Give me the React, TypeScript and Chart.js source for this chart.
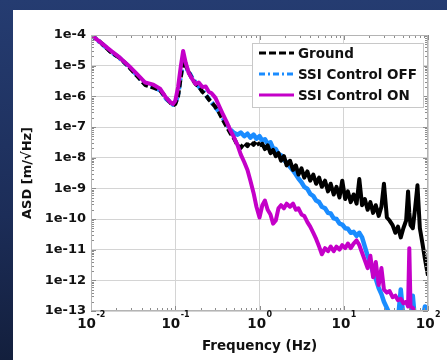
import React, { useEffect, useRef } from 'react';
import { Chart, registerables } from 'chart.js';

Chart.register(...registerables);

// Frequency axis (Hz)
const freqHz = [
  0.01, 0.013, 0.017, 0.022, 0.028, 0.035, 0.044, 0.055, 0.066, 0.078,
  0.088, 0.094, 0.1, 0.108, 0.116, 0.124, 0.133, 0.145, 0.16, 0.175,
  0.19, 0.21, 0.23, 0.25, 0.27, 0.3, 0.33, 0.37, 0.41, 0.45,
  0.5, 0.55, 0.6, 0.66, 0.72, 0.78, 0.85, 0.92, 1.0, 1.08,
  1.16, 1.25, 1.35, 1.45, 1.56, 1.68, 1.8, 1.95, 2.1, 2.3,
  2.5, 2.7, 2.9, 3.15, 3.4, 3.7, 4.0, 4.35, 4.7, 5.1,
  5.5, 6.0, 6.5, 7.0, 7.6, 8.2, 8.9, 9.6, 10.4, 11.2,
  12.1, 13.1, 14.2, 15.3, 16.5, 17.8, 19.2, 20.7, 22.3, 24,
  26, 28, 30, 32.5, 35, 38, 41, 44, 47.5, 51,
  55, 58, 60, 62, 66, 70, 75, 80, 86, 92,
  100,
];

// ASD [m/sqrt(Hz)]
const groundASD = [
  1.0e-4, 5.75e-5, 2.82e-5, 1.78e-5, 9.33e-6, 4.68e-6, 2.34e-6, 1.91e-6, 1.58e-6, 8.91e-7,
  6.03e-7, 5.01e-7, 5.62e-7, 1.0e-6, 3.98e-6, 1.51e-5, 1.0e-5, 6.03e-6, 3.55e-6, 2.51e-6,
  2.09e-6, 1.41e-6, 1.12e-6, 7.94e-7, 6.31e-7, 4.47e-7, 3.02e-7, 1.66e-7, 1.0e-7, 6.31e-8,
  4.17e-8, 2.51e-8, 2.09e-8, 3.02e-8, 2.40e-8, 3.31e-8, 2.63e-8, 3.55e-8, 2.51e-8, 2.82e-8,
  1.91e-8, 2.51e-8, 1.41e-8, 1.78e-8, 1.12e-8, 1.41e-8, 7.94e-9, 1.12e-8, 5.62e-9, 7.94e-9,
  3.98e-9, 5.62e-9, 2.82e-9, 4.47e-9, 2.24e-9, 3.55e-9, 1.78e-9, 2.82e-9, 1.41e-9, 2.24e-9,
  1.12e-9, 1.78e-9, 7.94e-10, 1.41e-9, 6.31e-10, 1.12e-9, 5.01e-10, 1.78e-9, 4.47e-10, 7.94e-10,
  3.55e-10, 6.31e-10, 3.16e-10, 2.0e-9, 2.82e-10, 4.47e-10, 2.0e-10, 3.55e-10, 1.58e-10, 2.82e-10,
  1.26e-10, 2.51e-10, 1.41e-9, 1.12e-10, 8.91e-11, 6.31e-11, 3.55e-11, 5.62e-11, 2.51e-11, 5.01e-11,
  8.91e-11, 7.94e-10, 1.58e-10, 6.31e-11, 5.01e-11, 2.0e-10, 1.26e-9, 5.01e-11, 1.58e-11, 5.01e-12,
  1.41e-12,
];

const ssiOffASD = [
  1.0e-4, 5.62e-5, 2.95e-5, 1.74e-5, 9.55e-6, 5.01e-6, 2.51e-6, 2.0e-6, 1.58e-6, 8.32e-7,
  6.31e-7, 5.37e-7, 6.03e-7, 1.12e-6, 4.47e-6, 1.41e-5, 8.91e-6, 6.31e-6, 3.80e-6, 2.82e-6,
  2.09e-6, 1.58e-6, 1.12e-6, 8.32e-7, 6.31e-7, 4.47e-7, 3.16e-7, 1.91e-7, 1.20e-7, 8.32e-8,
  6.31e-8, 5.62e-8, 6.61e-8, 5.01e-8, 6.03e-8, 4.47e-8, 5.62e-8, 4.17e-8, 5.01e-8, 3.55e-8,
  3.98e-8, 2.82e-8, 3.16e-8, 2.0e-8, 1.91e-8, 1.32e-8, 1.20e-8, 8.32e-9, 7.08e-9, 5.01e-9,
  3.80e-9, 2.82e-9, 2.09e-9, 1.58e-9, 1.12e-9, 9.55e-10, 6.61e-10, 5.62e-10, 3.98e-10, 3.55e-10,
  2.51e-10, 2.24e-10, 1.58e-10, 1.51e-10, 1.05e-10, 1.0e-10, 7.08e-11, 6.61e-11, 5.01e-11, 4.79e-11,
  3.55e-11, 3.80e-11, 2.82e-11, 3.55e-11, 2.51e-11, 1.26e-11, 6.31e-12, 3.55e-12, 1.78e-12, 1.12e-12,
  5.62e-13, 3.55e-13, 2.0e-13, 1.26e-13, 7.94e-14, 6.31e-14, 7.94e-14, 5.01e-14, 5.01e-13, 6.31e-14,
  3.98e-14, 7.94e-14, 5.01e-14, 3.98e-14, 3.16e-13, 5.01e-14, 3.98e-14, 6.31e-14, 5.01e-14, 1.41e-13,
  1.26e-13,
];

const ssiOnASD = [
  1.0e-4, 5.75e-5, 3.16e-5, 1.82e-5, 1.0e-5, 5.37e-6, 2.82e-6, 2.40e-6, 1.78e-6, 8.91e-7,
  6.31e-7, 5.62e-7, 7.08e-7, 2.0e-6, 8.91e-6, 3.02e-5, 1.26e-5, 5.62e-6, 3.55e-6, 2.51e-6,
  2.82e-6, 2.0e-6, 2.09e-6, 1.41e-6, 1.26e-6, 8.91e-7, 5.01e-7, 2.51e-7, 1.41e-7, 7.94e-8,
  4.47e-8, 2.51e-8, 1.26e-8, 7.08e-9, 3.98e-9, 1.78e-9, 7.08e-10, 2.51e-10, 1.12e-10, 2.82e-10,
  3.98e-10, 2.0e-10, 1.41e-10, 7.08e-11, 8.91e-11, 2.24e-10, 2.82e-10, 2.24e-10, 3.16e-10, 2.51e-10,
  3.16e-10, 2.0e-10, 2.24e-10, 1.41e-10, 1.26e-10, 7.94e-11, 5.62e-11, 3.55e-11, 2.24e-11, 1.26e-11,
  7.08e-12, 1.12e-11, 8.91e-12, 1.26e-11, 8.91e-12, 1.26e-11, 1.0e-11, 1.41e-11, 1.12e-11, 1.58e-11,
  1.12e-11, 1.58e-11, 2.0e-11, 1.41e-11, 7.94e-12, 4.47e-12, 2.51e-12, 6.31e-12, 1.26e-12, 3.98e-12,
  7.08e-13, 2.51e-12, 5.01e-13, 3.98e-13, 4.47e-13, 2.82e-13, 3.16e-13, 2.24e-13, 2.51e-13, 1.78e-13,
  2.0e-13, 1.41e-13, 1.12e-11, 1.41e-13, 1.26e-13, 8.91e-14, 5.01e-14, 3.16e-14, 2.51e-14, 2.0e-14,
  1.58e-14,
];

const seriesNames = ['Ground', 'SSI Control OFF', 'SSI Control ON'];
const seriesColors = ['#000000', '#1a8cff', '#c400c8'];

const xMajorTicks = [0.01, 0.1, 1, 10, 100];
const xTickExponents = ['-2', '-1', '0', '1', '2'];
const yMajorTicks = [1e-13, 1e-12, 1e-11, 1e-10, 1e-9, 1e-8, 1e-7, 1e-6, 1e-5, 1e-4];
const yTickLabels = ['1e-13', '1e-12', '1e-11', '1e-10', '1e-9', '1e-8', '1e-7', '1e-6', '1e-5', '1e-4'];

const FONT = "'DejaVu Sans', 'Liberation Sans', sans-serif";

function logTicks(majors: number[]) {
  const out: { value: number; major: boolean }[] = [];
  majors.forEach((m, i) => {
    out.push({ value: m, major: true });
    if (i < majors.length - 1) {
      for (let k = 2; k <= 9; k++) out.push({ value: m * k, major: false });
    }
  });
  return out;
}

const framePlugin = {
  id: 'framePlugin',
  afterDraw(chart: any) {
    const { ctx, chartArea: a } = chart;
    const xs = chart.scales.x;
    const ys = chart.scales.y;
    ctx.save();
    // inner tick marks on all four sides
    ctx.strokeStyle = '#8c8c8c';
    ctx.lineWidth = 1;
    ctx.beginPath();
    xs.ticks.forEach((t: any) => {
      const px = Math.round(xs.getPixelForValue(t.value)) + 0.5;
      const len = t.major ? 5 : 3;
      ctx.moveTo(px, a.bottom);
      ctx.lineTo(px, a.bottom - len);
      ctx.moveTo(px, a.top);
      ctx.lineTo(px, a.top + len);
    });
    ys.ticks.forEach((t: any) => {
      const py = Math.round(ys.getPixelForValue(t.value)) + 0.5;
      const len = t.major ? 5 : 3;
      ctx.moveTo(a.left, py);
      ctx.lineTo(a.left + len, py);
      ctx.moveTo(a.right, py);
      ctx.lineTo(a.right - len, py);
    });
    ctx.stroke();
    ctx.strokeStyle = '#b4b4b4';
    ctx.strokeRect(a.left + 0.5, a.top + 0.5, a.right - a.left - 1, a.bottom - a.top - 1);

    // x tick labels 10^n
    ctx.fillStyle = '#111';
    ctx.textBaseline = 'alphabetic';
    ctx.textAlign = 'left';
    xMajorTicks.forEach((v, i) => {
      const px = xs.getPixelForValue(v);
      ctx.font = `bold 13.5px ${FONT}`;
      const w1 = ctx.measureText('10').width;
      ctx.font = `bold 8px ${FONT}`;
      const w2 = ctx.measureText(xTickExponents[i]).width;
      const start = px - (w1 + w2) / 2;
      ctx.font = `bold 13.5px ${FONT}`;
      ctx.fillText('10', start, 328);
      ctx.font = `bold 8px ${FONT}`;
      ctx.fillText(xTickExponents[i], start + w1 + 0.5, 317);
    });

    // legend box
    const bx = 252, by = 43, bw = 171, bh = 64;
    ctx.fillStyle = '#ffffff';
    ctx.fillRect(bx, by, bw, bh);
    ctx.strokeStyle = '#c8c8c8';
    ctx.lineWidth = 1;
    ctx.strokeRect(bx + 0.5, by + 0.5, bw, bh);
    const dashes = [[7, 3], [6, 3, 2, 3], []];
    chart.data.datasets.forEach((ds: any, i: number) => {
      const cy = 53 + i * 21;
      ctx.strokeStyle = ds.borderColor;
      ctx.lineWidth = 3;
      ctx.setLineDash(dashes[i]);
      ctx.beginPath();
      ctx.moveTo(259, cy);
      ctx.lineTo(294, cy);
      ctx.stroke();
      ctx.setLineDash([]);
      ctx.fillStyle = '#111';
      ctx.font = `bold 13.5px ${FONT}`;
      ctx.textBaseline = 'middle';
      ctx.fillText(ds.label, 298, cy + 1);
    });
    ctx.restore();
  },
};

export default function App() {
  const canvasRef = useRef<HTMLCanvasElement | null>(null);

  useEffect(() => {
    const canvas = canvasRef.current;
    if (!canvas) return;
    const seriesValues = [groundASD, ssiOffASD, ssiOnASD];
    const lowDash = [[7, 3], [6, 3, 2, 3], []];
    const dashLimit = [1.0, 0.5, 0];
    const drawOrder = [1, 2, 0];
    const widths = [4, 4.5, 4];
    const chart = new Chart(canvas, {
      type: 'line',
      data: {
        datasets: seriesNames.map((name, i) => ({
          label: name,
          data: freqHz.map((f, j) => ({ x: f, y: seriesValues[i][j] })),
          borderColor: seriesColors[i],
          backgroundColor: seriesColors[i],
          borderWidth: widths[i],
          borderJoinStyle: 'round',
          pointRadius: 0,
          tension: 0,
          fill: false,
          order: drawOrder[i],
          segment: {
            borderDash: (ctx: any) => (ctx.p0.parsed.x < dashLimit[i] ? lowDash[i] : []),
          },
        })),
      },
      options: {
        animation: false,
        responsive: false,
        devicePixelRatio: 1,
        layout: { padding: { left: 0, top: 35, right: 19, bottom: 0 } },
        plugins: { legend: { display: false }, tooltip: { enabled: false } },
        scales: {
          x: {
            type: 'logarithmic',
            min: 0.01,
            max: 100,
            afterBuildTicks: (s: any) => { s.ticks = logTicks(xMajorTicks); },
            afterFit: (s: any) => { s.height = 49; },
            ticks: { display: false, autoSkip: false },
            grid: {
              drawTicks: false,
              color: (c: any) => (c.tick && c.tick.major ? '#d4d4d4' : 'rgba(0,0,0,0)'),
              lineWidth: 1,
            },
            border: { display: false },
            title: {
              display: true,
              text: 'Frequency (Hz)',
              color: '#111',
              font: { family: FONT, size: 13.5, weight: 'bold' },
              padding: { top: 0, bottom: 5 },
            },
          },
          y: {
            type: 'logarithmic',
            min: 1e-13,
            max: 1e-4,
            afterBuildTicks: (s: any) => { s.ticks = logTicks(yMajorTicks); },
            afterFit: (s: any) => { s.width = 91; },
            ticks: {
              autoSkip: false,
              padding: 5,
              color: '#111',
              font: { family: FONT, size: 13, weight: 'bold' },
              callback: (value: any) => {
                const idx = yMajorTicks.findIndex((m) => Math.abs(Math.log10(m) - Math.log10(Number(value))) < 1e-6);
                return idx >= 0 ? yTickLabels[idx] : '';
              },
            },
            grid: {
              drawTicks: false,
              color: (c: any) => (c.tick && c.tick.major ? '#d4d4d4' : 'rgba(0,0,0,0)'),
              lineWidth: 1,
            },
            border: { display: false },
            title: {
              display: true,
              text: 'ASD [m/√Hz]',
              color: '#111',
              font: { family: FONT, size: 13, weight: 'bold' },
              padding: { top: 20, bottom: 0 },
            },
          },
        },
      },
      plugins: [framePlugin],
    } as any);
    return () => chart.destroy();
  }, []);

  return (
    <div
      style={{
        position: 'fixed',
        left: 0,
        top: 0,
        width: 447,
        height: 360,
        background: 'linear-gradient(180deg, #253c71 0%, #1c2d58 60%, #131f3d 100%)',
        overflow: 'hidden',
      }}
    >
      <div style={{ position: 'absolute', left: 13, top: 10, width: 434, height: 350, background: '#ffffff' }} />
      <canvas ref={canvasRef} width={447} height={360} style={{ position: 'absolute', left: 0, top: 0, width: 447, height: 360 }} />
    </div>
  );
}
